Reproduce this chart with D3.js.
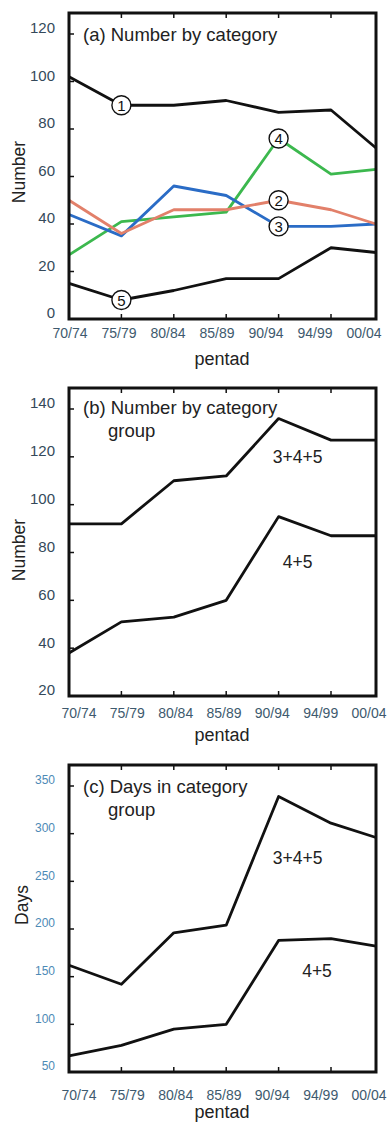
<!DOCTYPE html>
<html>
<head>
<meta charset="utf-8">
<script src="https://cdn.jsdelivr.net/npm/d3@7"></script>
<style>
  body { margin: 0; background: #fff; }
  text { font-family: "Liberation Sans", Arial, sans-serif; }
</style>
</head>
<body>
<svg id="chart" width="389" height="1123"></svg>
<script>
// pentads along the x axis
const pentads = ["70/74", "75/79", "80/84", "85/89", "90/94", "94/99", "00/04"];

// (a) number by category
const cat1 = [102, 90, 90, 92, 87, 88, 72];
const cat2 = [50, 36, 46, 46, 50, 46, 40];
const cat3 = [44, 35, 56, 52, 39, 39, 40];
const cat4 = [27, 41, 43, 45, 76, 61, 63];
const cat5 = [15, 8, 12, 17, 17, 30, 28];

// (b) number by category group
const num345 = [92, 92, 110, 112, 136, 127, 127];
const num45 = [38, 51, 53, 60, 95, 87, 87];

// (c) days in category group
const days345 = [162, 142, 196, 204, 339, 311, 296];
const days45 = [67, 78, 95, 100, 188, 190, 182];

const ticksA = [0, 20, 40, 60, 80, 100, 120];
const ticksB = [20, 40, 60, 80, 100, 120, 140];
const ticksC = [50, 100, 150, 200, 250, 300, 350];

const svg = d3.select("#chart");
const left = 69, right = 376;

// last pentad sits on the right frame, a bit closer than the others
const x = d3.scaleLinear().domain([0, 5, 6]).range([left, 331, right]);

function drawPanel(p) {
  const g = svg.append("g");
  const y = d3.scaleLinear().domain(p.domain).range(p.range);
  // the pentad labels are set as their own evenly spaced row
  const xl = d3.scalePoint().domain(pentads).range(p.labelRange);

  const line = d3.line()
    .x((d, i) => x(i))
    .y(d => y(d));

  // inner ticks on the left side
  g.selectAll(".ytick")
    .data(p.ticks)
    .enter()
    .append("line")
    .attr("x1", left)
    .attr("x2", left + 5)
    .attr("y1", d => y(d))
    .attr("y2", d => y(d))
    .attr("stroke", "#111")
    .attr("stroke-width", 1.5);

  g.selectAll(".ylab")
    .data(p.ticks)
    .enter()
    .append("text")
    .attr("x", 55)
    .attr("y", d => y(d) - 6 + p.tickSize * 0.36)
    .attr("text-anchor", "end")
    .attr("font-size", p.tickSize)
    .attr("fill", p.tickColor)
    .text(d => d);

  // inner ticks on top and bottom
  const inner = d3.range(1, pentads.length - 1);
  g.selectAll(".xb")
    .data(inner)
    .enter()
    .append("line")
    .attr("x1", i => x(i))
    .attr("x2", i => x(i))
    .attr("y1", p.bottom)
    .attr("y2", p.bottom - 5)
    .attr("stroke", "#111")
    .attr("stroke-width", 1.5);
  g.selectAll(".xt")
    .data(inner)
    .enter()
    .append("line")
    .attr("x1", i => x(i))
    .attr("x2", i => x(i))
    .attr("y1", p.top)
    .attr("y2", p.top + 5)
    .attr("stroke", "#111")
    .attr("stroke-width", 1.5);

  g.selectAll(".xlab")
    .data(pentads)
    .enter()
    .append("text")
    .attr("x", d => xl(d))
    .attr("y", p.xTickY)
    .attr("text-anchor", "middle")
    .attr("font-size", 14)
    .attr("fill", "#3e5a6e")
    .text(d => d);

  g.append("text")
    .attr("x", 222)
    .attr("y", p.xLabelY)
    .attr("text-anchor", "middle")
    .attr("font-size", 18)
    .attr("fill", "#222")
    .text("pentad");

  g.append("text")
    .attr("transform", `translate(${p.yLabelX},${p.yLabelY}) rotate(-90)`)
    .attr("text-anchor", "middle")
    .attr("font-size", 17.5)
    .attr("fill", "#222")
    .text(p.yLabel);

  // title, possibly on two lines
  p.title.forEach((t, k) => {
    g.append("text")
      .attr("x", k === 0 ? 83 : 108)
      .attr("y", p.titleY + k * 23)
      .attr("font-size", 18.5)
      .attr("fill", "#222")
      .text(t);
  });

  p.series.forEach(s => {
    g.append("path")
      .datum(s.values)
      .attr("d", line)
      .attr("fill", "none")
      .attr("stroke", s.color)
      .attr("stroke-width", 2.8)
      .attr("stroke-linejoin", "round");
  });

  // circled category numbers sit on the lines
  (p.marks || []).forEach(m => {
    const cx = x(m.at), cy = y(m.values[m.at]);
    g.append("circle")
      .attr("cx", cx)
      .attr("cy", cy)
      .attr("r", 9.5)
      .attr("fill", "#fff")
      .attr("stroke", "#111")
      .attr("stroke-width", 1.4);
    g.append("text")
      .attr("x", cx)
      .attr("y", cy + 5.5)
      .attr("text-anchor", "middle")
      .attr("font-size", 15)
      .attr("fill", "#111")
      .text(m.label);
  });

  (p.notes || []).forEach(n => {
    g.append("text")
      .attr("x", x(n.at) + n.dx)
      .attr("y", y(n.v) + 6)
      .attr("text-anchor", "middle")
      .attr("font-size", 17.5)
      .attr("fill", "#222")
      .text(n.text);
  });

  g.append("rect")
    .attr("x", left)
    .attr("y", p.top)
    .attr("width", right - left)
    .attr("height", p.bottom - p.top)
    .attr("fill", "none")
    .attr("stroke", "#111")
    .attr("stroke-width", 3);
}

drawPanel({
  top: 13, bottom: 319, domain: [0, 120], range: [319, 34],
  ticks: ticksA, tickSize: 15, tickColor: "#34495a",
  labelRange: [70, 364], xTickY: 338, xLabelY: 365,
  yLabel: "Number", yLabelX: 25, yLabelY: 172,
  title: ["(a) Number by category"], titleY: 41,
  series: [
    { values: cat4, color: "#3cb84e" },
    { values: cat3, color: "#2a6cc6" },
    { values: cat2, color: "#e2806a" },
    { values: cat1, color: "#111" },
    { values: cat5, color: "#111" }
  ],
  marks: [
    { values: cat1, at: 1, label: "1" },
    { values: cat2, at: 4, label: "2" },
    { values: cat3, at: 4, label: "3" },
    { values: cat4, at: 4, label: "4" },
    { values: cat5, at: 1, label: "5" }
  ]
});

drawPanel({
  top: 388, bottom: 696, domain: [20, 140], range: [696, 409],
  ticks: ticksB, tickSize: 15, tickColor: "#34495a",
  labelRange: [79, 369], xTickY: 718, xLabelY: 741,
  yLabel: "Number", yLabelX: 25, yLabelY: 550,
  title: ["(b) Number by category", "group"], titleY: 414,
  series: [
    { values: num345, color: "#111" },
    { values: num45, color: "#111" }
  ],
  notes: [
    { text: "3+4+5", at: 4, dx: 19, v: 120 },
    { text: "4+5", at: 4, dx: 19, v: 76 }
  ]
});

drawPanel({
  top: 765, bottom: 1072, domain: [50, 350], range: [1072, 786],
  ticks: ticksC, tickSize: 12, tickColor: "#4d8ab6",
  labelRange: [79, 369], xTickY: 1100, xLabelY: 1118,
  yLabel: "Days", yLabelX: 28, yLabelY: 905,
  title: ["(c) Days in category", "group"], titleY: 793,
  series: [
    { values: days345, color: "#111" },
    { values: days45, color: "#111" }
  ],
  notes: [
    { text: "3+4+5", at: 4, dx: 19, v: 275 },
    { text: "4+5", at: 5, dx: -14, v: 156 }
  ]
});
</script>
</body>
</html>
